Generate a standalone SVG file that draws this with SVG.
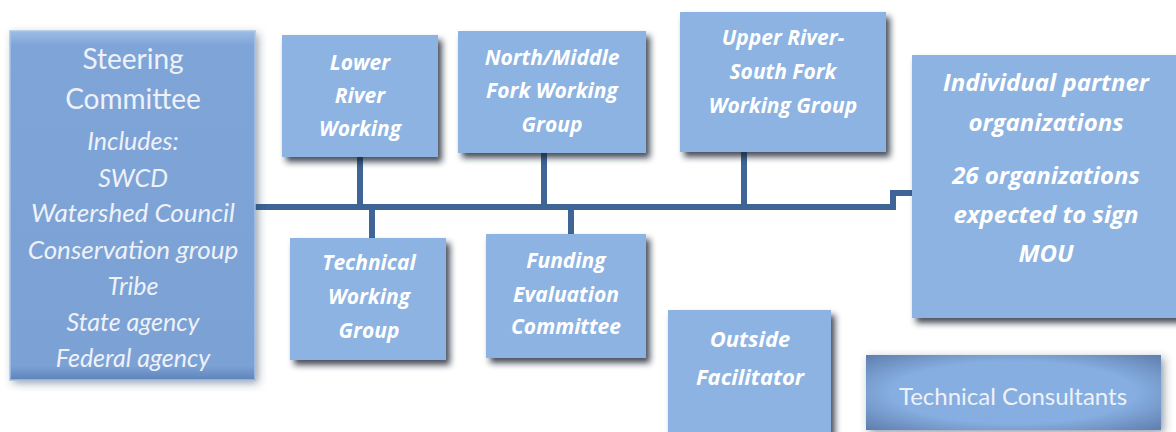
<svg xmlns="http://www.w3.org/2000/svg" width="1176" height="432" viewBox="0 0 1176 432">
  <defs>
    <filter id="shadow" x="-10%" y="-10%" width="130%" height="130%">
      <feDropShadow dx="4" dy="5" stdDeviation="3" flood-color="#1a2433" flood-opacity="0.8"/>
    </filter>
    <filter id="softshadow" x="-10%" y="-10%" width="130%" height="130%">
      <feDropShadow dx="3" dy="3" stdDeviation="4" flood-color="#2a3a55" flood-opacity="0.5"/>
    </filter>
    <linearGradient id="bevelV" x1="0" y1="0" x2="0" y2="1">
      <stop offset="0" stop-color="#9DBCE6"/>
      <stop offset="0.04" stop-color="#7FA5D8"/>
      <stop offset="0.96" stop-color="#7BA1D5"/>
      <stop offset="1" stop-color="#5E83B8"/>
    </linearGradient>
    <radialGradient id="glow" cx="0.5" cy="0.5" r="0.75">
      <stop offset="0.55" stop-color="#86AEE0"/>
      <stop offset="1" stop-color="#5877A6"/>
    </radialGradient>
    <style>
      .box { fill: #8DB3E2; filter: url(#shadow); }
      .t { font-family: "Open Sans", Lato, sans-serif; font-weight: bold; font-style: italic; fill: #FFFFFF; text-anchor: middle; }
      .s { font-family: Lato, "Open Sans", sans-serif; fill: #EEF2F8; text-anchor: middle; }
      .conn { stroke: #3E6596; stroke-width: 6; fill: none; }
    </style>
  </defs>

  <rect width="1176" height="432" fill="#FFFFFF"/>

  <g id="connectors">
    <polyline class="conn" points="255,207 893,207 893,193 912,193"/>
    <line class="conn" x1="360" y1="157" x2="360" y2="207"/>
    <line class="conn" x1="544" y1="153" x2="544" y2="207"/>
    <line class="conn" x1="744" y1="152" x2="744" y2="207"/>
    <line class="conn" x1="372" y1="207" x2="372" y2="238"/>
    <line class="conn" x1="571" y1="207" x2="571" y2="234"/>
  </g>

  <g id="steering">
    <rect x="10" y="31" width="245" height="349" fill="url(#bevelV)" filter="url(#softshadow)"/>
    <rect x="10" y="31" width="245" height="349" fill="none" stroke="#A8C3E8" stroke-width="2" opacity="0.7"/>
    <text class="s" x="133" y="69" font-size="28">Steering</text>
    <text class="s" x="133" y="109" font-size="28">Committee</text>
    <text class="s" x="133" y="150" font-size="25" font-style="italic">Includes:</text>
    <text class="s" x="133" y="187" font-size="25" font-style="italic">SWCD</text>
    <text class="s" x="133" y="222" font-size="26" font-style="italic">Watershed Council</text>
    <text class="s" x="133" y="259" font-size="26" font-style="italic">Conservation group</text>
    <text class="s" x="133" y="295" font-size="25" font-style="italic">Tribe</text>
    <text class="s" x="133" y="331" font-size="25" font-style="italic">State agency</text>
    <text class="s" x="133" y="367" font-size="25" font-style="italic">Federal agency</text>
  </g>

  <g id="lower-river">
    <rect class="box" x="282" y="35" width="156" height="122"/>
    <text class="t" x="360" y="70" font-size="21">Lower</text>
    <text class="t" x="360" y="103" font-size="21">River</text>
    <text class="t" x="360" y="136" font-size="21">Working</text>
  </g>

  <g id="north-middle">
    <rect class="box" x="458" y="31" width="188" height="122"/>
    <text class="t" x="552" y="65" font-size="21">North/Middle</text>
    <text class="t" x="552" y="98" font-size="21">Fork Working</text>
    <text class="t" x="552" y="132" font-size="21">Group</text>
  </g>

  <g id="upper-river">
    <rect class="box" x="680" y="12" width="206" height="140"/>
    <text class="t" x="783" y="45" font-size="21">Upper River-</text>
    <text class="t" x="783" y="79" font-size="21">South Fork</text>
    <text class="t" x="783" y="113" font-size="21">Working Group</text>
  </g>

  <g id="technical-wg">
    <rect class="box" x="290" y="238" width="156" height="122"/>
    <text class="t" x="369" y="270" font-size="21">Technical</text>
    <text class="t" x="369" y="304" font-size="21">Working</text>
    <text class="t" x="369" y="338" font-size="21">Group</text>
  </g>

  <g id="funding">
    <rect class="box" x="486" y="234" width="160" height="124"/>
    <text class="t" x="566" y="268" font-size="21">Funding</text>
    <text class="t" x="566" y="302" font-size="21">Evaluation</text>
    <text class="t" x="566" y="334" font-size="21">Committee</text>
  </g>

  <g id="partners">
    <rect class="box" x="912" y="55" width="270" height="263"/>
    <text class="t" x="1046" y="91" font-size="24">Individual partner</text>
    <text class="t" x="1046" y="131" font-size="24">organizations</text>
    <text class="t" x="1046" y="184" font-size="24">26 organizations</text>
    <text class="t" x="1046" y="223" font-size="24">expected to sign</text>
    <text class="t" x="1046" y="262" font-size="24">MOU</text>
  </g>

  <g id="outside-facilitator">
    <rect class="box" x="668" y="310" width="163" height="124"/>
    <text class="t" x="750" y="347" font-size="22">Outside</text>
    <text class="t" x="750" y="385" font-size="22">Facilitator</text>
  </g>

  <g id="technical-consultants">
    <rect x="866" y="355" width="295" height="75" fill="url(#glow)" filter="url(#softshadow)"/>
    <text class="s" x="1013" y="405" font-size="24" fill="#E4EBF5">Technical Consultants</text>
  </g>
</svg>
